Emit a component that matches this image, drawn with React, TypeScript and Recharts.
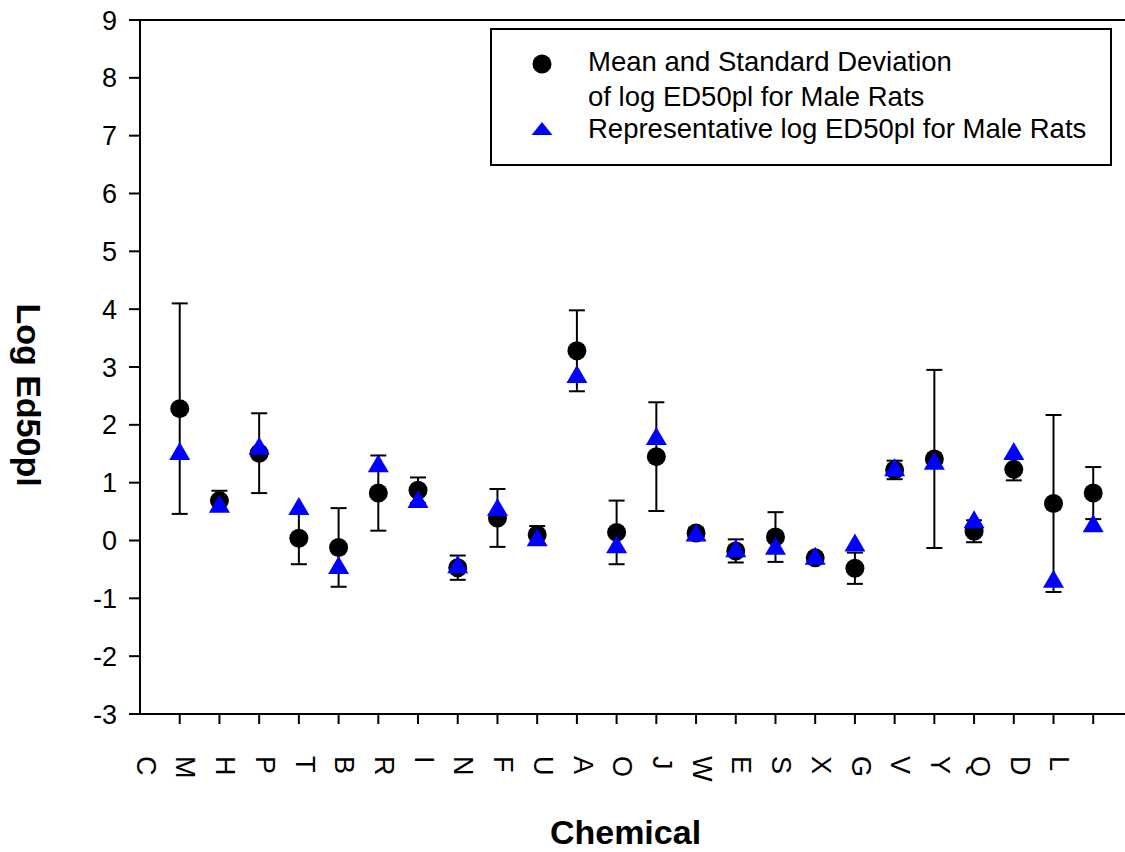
import { ScatterChart, Scatter, XAxis, YAxis, ErrorBar, ReferenceLine, Legend, Label } from 'recharts'

const FONT = '"Liberation Sans", Arial, Helvetica, sans-serif'

const chemicals = ['C', 'M', 'H', 'P', 'T', 'B', 'R', 'I', 'N', 'F', 'U', 'A', 'O', 'J', 'W', 'E', 'S', 'X', 'G', 'V', 'Y', 'Q', 'D', 'L']
const meanLog = [2.28, 0.69, 1.51, 0.04, -0.12, 0.82, 0.87, -0.47, 0.39, 0.1, 3.28, 0.14, 1.45, 0.13, -0.18, 0.06, -0.3, -0.48, 1.22, 1.41, 0.16, 1.23, 0.64, 0.82]
const sdLog = [1.82, 0.17, 0.69, 0.45, 0.68, 0.65, 0.22, 0.21, 0.5, 0.15, 0.7, 0.55, 0.94, 0.08, 0.2, 0.43, 0.04, 0.27, 0.16, 1.54, 0.19, 0.19, 1.53, 0.45]
const repLog = [1.53, 0.62, 1.62, 0.58, -0.44, 1.32, 0.7, -0.43, 0.56, 0.04, 2.86, -0.08, 1.79, 0.12, -0.15, -0.11, -0.28, -0.05, 1.25, 1.36, 0.35, 1.53, -0.68, 0.28]
const yTicks = [-3, -2, -1, 0, 1, 2, 3, 4, 5, 6, 7, 8, 9]
const xTicks = chemicals.map((_, i) => i + 1)

const meanData = chemicals.map((name, i) => ({ name, x: i + 1, y: meanLog[i], err: sdLog[i] }))
const repData = chemicals.map((name, i) => ({ name, x: i + 1, y: repLog[i] }))

const SERIES_MEAN = 'Mean and Standard Deviation\nof log ED50pl for Male Rats'
const SERIES_REP = 'Representative log ED50pl for Male Rats'

function Dot(props: any) {
  const { cx, cy } = props
  if (cx == null || cy == null) return null
  return <circle cx={cx} cy={cy} r={9.5} fill="#000" />
}

function Tri(props: any) {
  const { cx, cy } = props
  if (cx == null || cy == null) return null
  return <path d={`M${cx},${cy - 10}L${cx + 10.5},${cy + 8}L${cx - 10.5},${cy + 8}Z`} fill="#0000ff" />
}

function ChemTick(props: any) {
  const { x, payload } = props
  const tx = x - 43
  const ty = 756
  return (
    <text
      transform={`translate(${tx},${ty}) rotate(90)`}
      textAnchor="start"
      fontSize={27}
      fontFamily={FONT}
      fill="#000"
    >
      {chemicals[payload.value - 1]}
    </text>
  )
}

function XTitle(props: any) {
  const vb = props.viewBox || { x: 140, y: 714, width: 985, height: 138 }
  return (
    <text x={vb.x + vb.width / 2 - 7} y={vb.y + 130} textAnchor="middle" fontSize={34} fontWeight="bold" fontFamily={FONT} fill="#000">
      Chemical
    </text>
  )
}

function YTitle() {
  const cx = 17
  const cy = 395
  return (
    <text x={cx} y={cy} transform={`rotate(90 ${cx} ${cy})`} textAnchor="middle" fontSize={34} fontWeight="bold" fontFamily={FONT} fill="#000">
      Log Ed50pl
    </text>
  )
}

function LegendBox(props: any) {
  const items = props.payload || []
  const mean = items.find((p: any) => p.value === SERIES_MEAN)
  const rep = items.find((p: any) => p.value === SERIES_REP)
  const meanLines = String(mean ? mean.value : SERIES_MEAN).split('\n')
  return (
    <svg width={622} height={138} style={{ display: 'block' }}>
      <rect x={1} y={1} width={620} height={136} fill="#fff" stroke="#000" strokeWidth={2} />
      <circle cx={52} cy={36} r={9.5} fill="#000" />
      <path d="M52,94L62.5,107L41.5,107Z" fill="#0000ff" />
      <g fontSize={27.5} fontFamily={FONT} fill="#000">
        <text x={98} y={43}>{meanLines[0]}</text>
        <text x={98} y={78}>{meanLines[1]}</text>
        <text x={98} y={110}>{rep ? rep.value : SERIES_REP}</text>
      </g>
    </svg>
  )
}

export default function App() {
  return (
    <div style={{ position: 'absolute', left: 0, top: 0, background: '#fff' }}>
      <ScatterChart width={1125} height={852} margin={{ top: 20, right: 0, bottom: 0, left: 0 }}>
        <XAxis
          type="number"
          dataKey="x"
          domain={[0, 24.8]}
          ticks={xTicks}
          interval={0}
          height={138}
          tickSize={10}
          axisLine={{ stroke: '#000', strokeWidth: 2 }}
          tickLine={{ stroke: '#000', strokeWidth: 2 }}
          tick={<ChemTick />}
        >
          <Label content={<XTitle />} />
        </XAxis>
        <YAxis
          type="number"
          dataKey="y"
          domain={[-3, 9]}
          ticks={yTicks}
          interval={0}
          width={140}
          tickSize={11}
          tickMargin={12}
          axisLine={{ stroke: '#000', strokeWidth: 2 }}
          tickLine={{ stroke: '#000', strokeWidth: 2 }}
          tick={{ fill: '#000', fontSize: 27, fontFamily: FONT }}
        >
          <Label content={<YTitle />} />
        </YAxis>
        <ReferenceLine y={9} stroke="#000" strokeWidth={2} />
        <Scatter name={SERIES_MEAN} data={meanData} fill="#000" shape={<Dot />} isAnimationActive={false}>
          <ErrorBar dataKey="err" direction="y" width={8} stroke="#000" strokeWidth={2} isAnimationActive={false} />
        </Scatter>
        <Scatter name={SERIES_REP} data={repData} fill="#0000ff" shape={<Tri />} isAnimationActive={false} />
        <Legend
          layout="horizontal"
          verticalAlign="middle"
          content={<LegendBox />}
          wrapperStyle={{ position: 'absolute', left: 490, top: 28, width: 622, height: 138 }}
        />
      </ScatterChart>
    </div>
  )
}
